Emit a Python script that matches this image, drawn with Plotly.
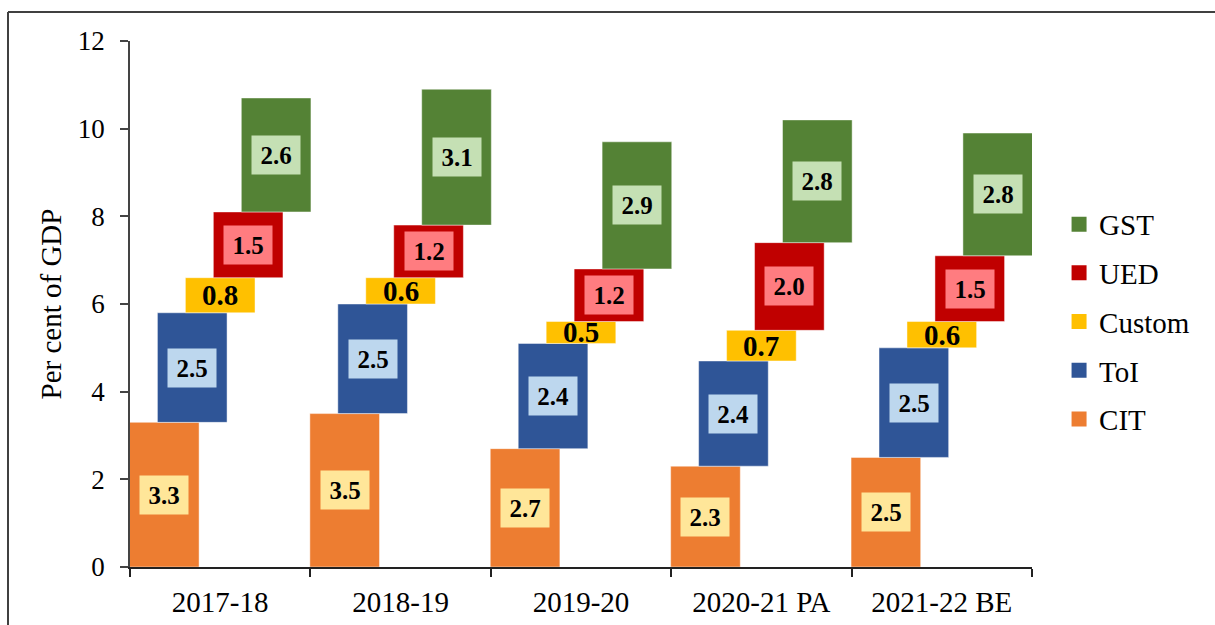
import plotly.graph_objects as go

years = ["2017-18", "2018-19", "2019-20", "2020-21 PA", "2021-22 BE"]
series = ["CIT", "ToI", "Custom", "UED", "GST"]
cit = [3.3, 3.5, 2.7, 2.3, 2.5]
toi = [2.5, 2.5, 2.4, 2.4, 2.5]
custom = [0.8, 0.6, 0.5, 0.7, 0.6]
ued = [1.5, 1.2, 1.2, 2.0, 1.5]
gst = [2.6, 3.1, 2.9, 2.8, 2.8]
y_ticks = [0, 2, 4, 6, 8, 10, 12]

values = [cit, toi, custom, ued, gst]
bar_colors = ["#ED7D31", "#2F5597", "#FFC000", "#C00000", "#548235"]
label_bg = ["#FFE699", "#BDD7EE", None, "#FF7C80", "#C5E0B4"]

FONT = "'Times New Roman', 'Liberation Serif', 'DejaVu Serif', serif"
step = 0.155          # horizontal shift between consecutive series
width = 0.386         # bar width in category units

fig = go.Figure()
annotations = []
bases = [0.0] * len(years)
for k, (name, vals) in enumerate(zip(series, values)):
    off = (k - 2) * step
    xs = [i + off for i in range(len(years))]
    fig.add_trace(go.Bar(
        x=xs, y=vals, base=bases, width=width, name=name,
        marker=dict(color=bar_colors[k], line=dict(color="rgba(255,255,255,0.45)", width=1)),
        showlegend=False, hoverinfo="skip",
    ))
    for x, b, v in zip(xs, bases, vals):
        ann = dict(x=x, y=b + v / 2, xref="x", yref="y", text=f"<b>{v:.1f}</b>",
                   showarrow=False, font=dict(family=FONT, size=25, color="black"))
        if label_bg[k]:
            ann.update(bgcolor=label_bg[k], width=44, height=34, borderpad=2)
        else:
            ann["font"]["size"] = 29
        annotations.append(ann)
    bases = [b + v for b, v in zip(bases, vals)]

# legend entries with square swatches, GST at the top
for k in reversed(range(len(series))):
    fig.add_trace(go.Scatter(
        x=[None], y=[None], mode="markers", name=series[k], legendgroup=series[k],
        marker=dict(symbol="square", size=15, color=bar_colors[k]),
    ))

# outer frame (top and left edges)
fx = (8 - 130) / 902
fy = (567 - 12) / 526
shapes = [
    dict(type="line", xref="paper", yref="paper", x0=fx, x1=1.3, y0=fy, y1=fy,
         line=dict(color="#404040", width=2)),
    dict(type="line", xref="paper", yref="paper", x0=fx, x1=fx, y0=fy, y1=-0.3,
         line=dict(color="#404040", width=2)),
]

fig.update_layout(
    width=1215, height=625,
    margin=dict(l=130, r=183, t=41, b=58),
    paper_bgcolor="white", plot_bgcolor="white",
    barmode="overlay",
    font=dict(family=FONT, size=29, color="black"),
    annotations=annotations,
    shapes=shapes,
    showlegend=True,
    legend=dict(x=1.03, y=0.70, xanchor="left", yanchor="top",
                traceorder="grouped", tracegroupgap=8,
                font=dict(family=FONT, size=29), itemwidth=30),
    xaxis=dict(
        range=[-0.5, len(years) - 0.5],
        tickvals=list(range(len(years))), ticktext=years, ticks="",
        showgrid=False, zeroline=False, automargin=False,
        showline=True, linecolor="#222", linewidth=2,
        tickfont=dict(family=FONT, size=29),
        ticklabelstandoff=8,
        minor=dict(tickvals=[i - 0.5 for i in range(len(years) + 1)],
                   ticks="outside", ticklen=8, tickcolor="#222", tickwidth=2, showgrid=False),
    ),
    yaxis=dict(
        range=[0, 12], tickvals=y_ticks, ticks="outside", ticklen=8,
        tickcolor="#444", tickwidth=1.5,
        showgrid=False, zeroline=False, automargin=False,
        showline=True, linecolor="#444", linewidth=1.5,
        tickfont=dict(family=FONT, size=27),
        ticklabelstandoff=10,
        title=dict(text="Per cent of GDP", font=dict(family=FONT, size=29), standoff=8),
    ),
)

fig.write_html("out.html")
